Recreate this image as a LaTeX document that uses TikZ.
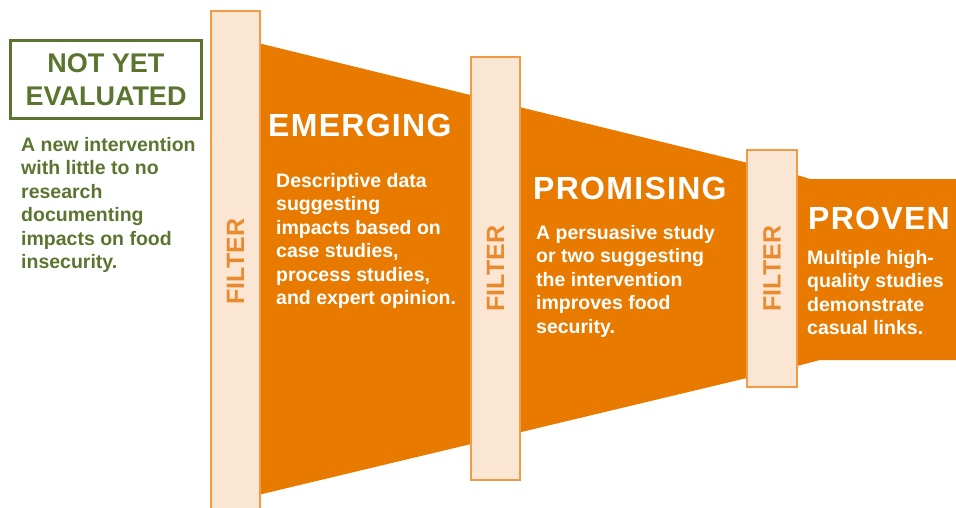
\documentclass[tikz,border=0pt]{standalone}
\usepackage{fontspec}
\setmainfont{Liberation Sans}

\definecolor{funnelorange}{HTML}{E87A00}
\definecolor{filterfill}{HTML}{FBE5D3}
\definecolor{filterline}{HTML}{F29A45}
\definecolor{filtertext}{HTML}{E98A2E}
\definecolor{evalgreen}{HTML}{5B7530}

\tikzset{
	filter/.style={draw=filterline, line width=1.5pt, fill=filterfill, rotate=90, text=filtertext,
		font=\fontsize{25}{30}\selectfont\bfseries, inner sep=0pt},
	stage/.style={anchor=base west, inner sep=0pt, text=white,
		font=\fontsize{32}{38}\selectfont\bfseries\addfontfeatures{LetterSpace=4}},
	info/.style={anchor=north west, inner sep=0pt, align=left,
		font=\fontsize{19.5}{23.5}\selectfont\bfseries},
}

\begin{document}
\begin{tikzpicture}[x=1pt, y=-1pt]
		\useasboundingbox (0, 0) rectangle (956, 508);
		
		% funnel
		\fill[funnelorange] (258, 43) -- (797, 175) -- (810, 179) -- (958, 179) -- (958, 360)
			-- (820, 360) -- (797, 366) -- (258, 495) -- cycle;
		
		\node[filter, minimum width=501pt, minimum height=49pt] (filterA) at (235.5, 261.5) {FILTER};
		\node[filter, minimum width=423pt, minimum height=49pt] (filterB) at (495.5, 268.5) {FILTER};
		\node[filter, minimum width=237pt, minimum height=50pt] (filterC) at (772, 268.5) {FILTER};
		
		\node[draw=evalgreen, line width=3pt, minimum width=191pt, minimum height=78pt, align=center,
			text=evalgreen, font=\fontsize{27}{33}\selectfont\bfseries] (notyet) at (106, 79.5) {NOT YET\\EVALUATED};
		\node[info, text=evalgreen] (notyetinfo) at (21, 137) {A new intervention\\with little to no\\research\\documenting\\impacts on food\\insecurity.};
		
		\node[stage] (emerging) at (268, 137) {EMERGING};
		\node[info, text=white] (emerginginfo) at (276, 173) {Descriptive data\\suggesting\\impacts based on\\case studies,\\process studies,\\and expert opinion.};
		
		\node[stage] (promising) at (533, 200) {PROMISING};
		\node[info, text=white] (promisinginfo) at (536, 225) {A persuasive study\\or two suggesting\\the intervention\\improves food\\security.};
		
		\node[stage] (proven) at (808, 229) {PROVEN};
		\node[info, text=white] (proveninfo) at (807, 250) {Multiple high-\\quality studies\\demonstrate\\casual links.};
	\end{tikzpicture}
\end{document}
